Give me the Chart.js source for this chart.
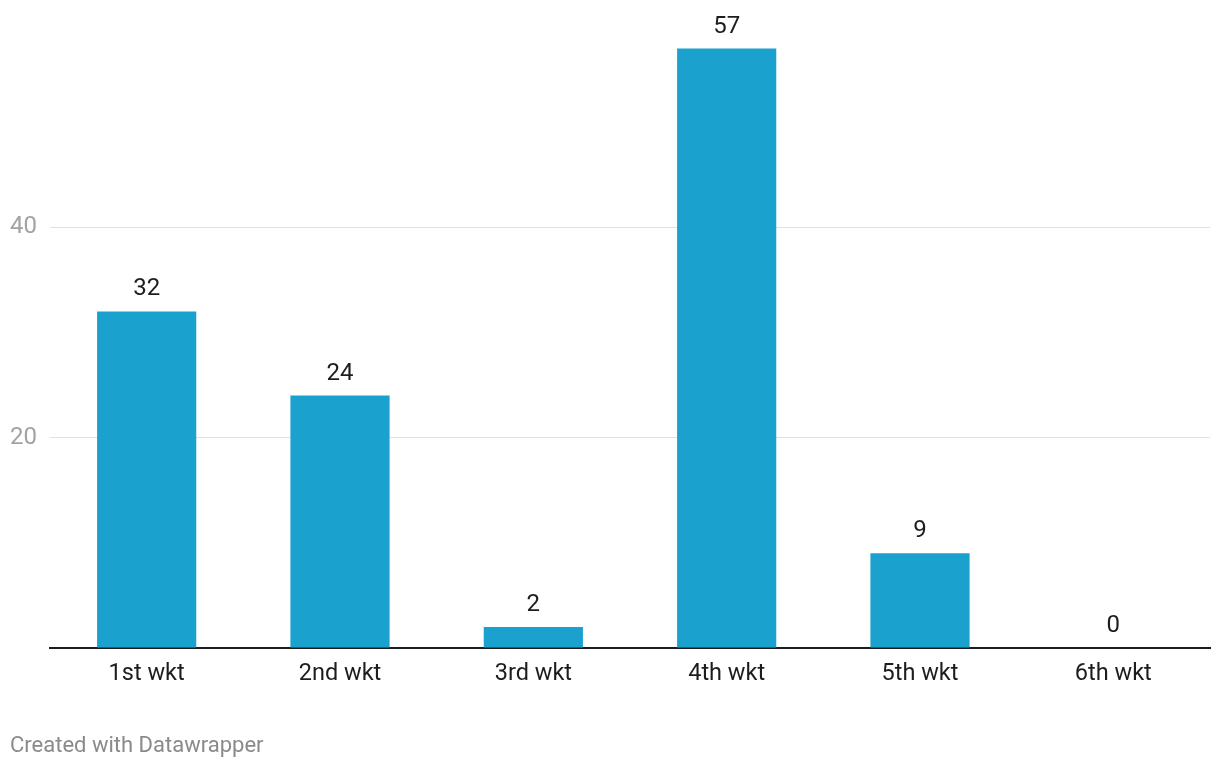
<!DOCTYPE html>
<html>
<head>
<meta charset="utf-8">
<script src="https://cdn.jsdelivr.net/npm/chart.js@4"></script>
<style>
  html, body { margin: 0; padding: 0; background: #fff; }
  #wrap { width: 1220px; height: 768px; }
</style>
</head>
<body>
<div id="wrap"><canvas id="wktChart" width="1220" height="768"></canvas></div>
<script>
  const categories = ['1st wkt', '2nd wkt', '3rd wkt', '4th wkt', '5th wkt', '6th wkt'];
  const partnershipRuns = [32, 24, 2, 57, 9, 0];
  const yTicks = [20, 40];

  const barColor = '#1aa1cd';
  const fontFamily = 'Roboto, "Noto Sans", sans-serif';

  // value labels above each bar
  const valueLabels = {
    id: 'valueLabels',
    afterDatasetsDraw(chart) {
      const ctx = chart.ctx;
      const meta = chart.getDatasetMeta(0);
      ctx.save();
      ctx.font = '24px ' + fontFamily;
      ctx.fillStyle = '#1d1d1d';
      ctx.textAlign = 'center';
      ctx.textBaseline = 'middle';
      meta.data.forEach((bar, i) => {
        ctx.fillText(String(partnershipRuns[i]), bar.x, bar.y - 22);
      });
      ctx.restore();
    }
  };

  // credit line at the bottom
  const footer = {
    id: 'footer',
    afterDraw(chart) {
      const ctx = chart.ctx;
      ctx.save();
      ctx.font = '22px ' + fontFamily;
      ctx.fillStyle = '#8a8a8a';
      ctx.textAlign = 'left';
      ctx.textBaseline = 'middle';
      ctx.fillText('Created with Datawrapper', 10, 746);
      ctx.restore();
    }
  };

  const ctx1 = document.getElementById('wktChart').getContext('2d');
  const wktChart = new Chart(ctx1, {
    type: 'bar',
    data: {
      labels: categories,
      datasets: [{
        label: 'Runs',
        data: partnershipRuns,
        backgroundColor: barColor,
        barPercentage: 0.513,
        categoryPercentage: 1
      }]
    },
    options: {
      responsive: false,
      animation: false,
      layout: { padding: { top: 17, right: 10, bottom: 0, left: 0 } },
      plugins: {
        legend: { display: false },
        tooltip: { enabled: false }
      },
      scales: {
        x: {
          grid: { display: false, drawTicks: false },
          border: { color: '#1d1d1d', width: 2 },
          ticks: {
            color: '#1d1d1d',
            font: { family: fontFamily, size: 23.5 },
            padding: 12
          },
          afterFit(scale) { scale.height = 120; }
        },
        y: {
          min: 0,
          max: 60,
          afterBuildTicks(scale) {
            scale.ticks = [0].concat(yTicks).concat([60]).map(v => ({ value: v }));
          },
          grid: {
            drawTicks: false,
            color: c => (yTicks.includes(c.tick.value) ? '#e1e1e1' : 'rgba(0,0,0,0)'),
            lineWidth: 1
          },
          border: { display: false },
          ticks: {
            color: '#a3a3a3',
            font: { family: fontFamily, size: 24 },
            padding: 13,
            callback: v => (yTicks.includes(v) ? v : '')
          },
          afterFit(scale) {
            scale.width = 50;
            scale.paddingTop = 0;
            scale.paddingBottom = 0;
          }
        }
      }
    },
    plugins: [valueLabels, footer]
  });
</script>
</body>
</html>
